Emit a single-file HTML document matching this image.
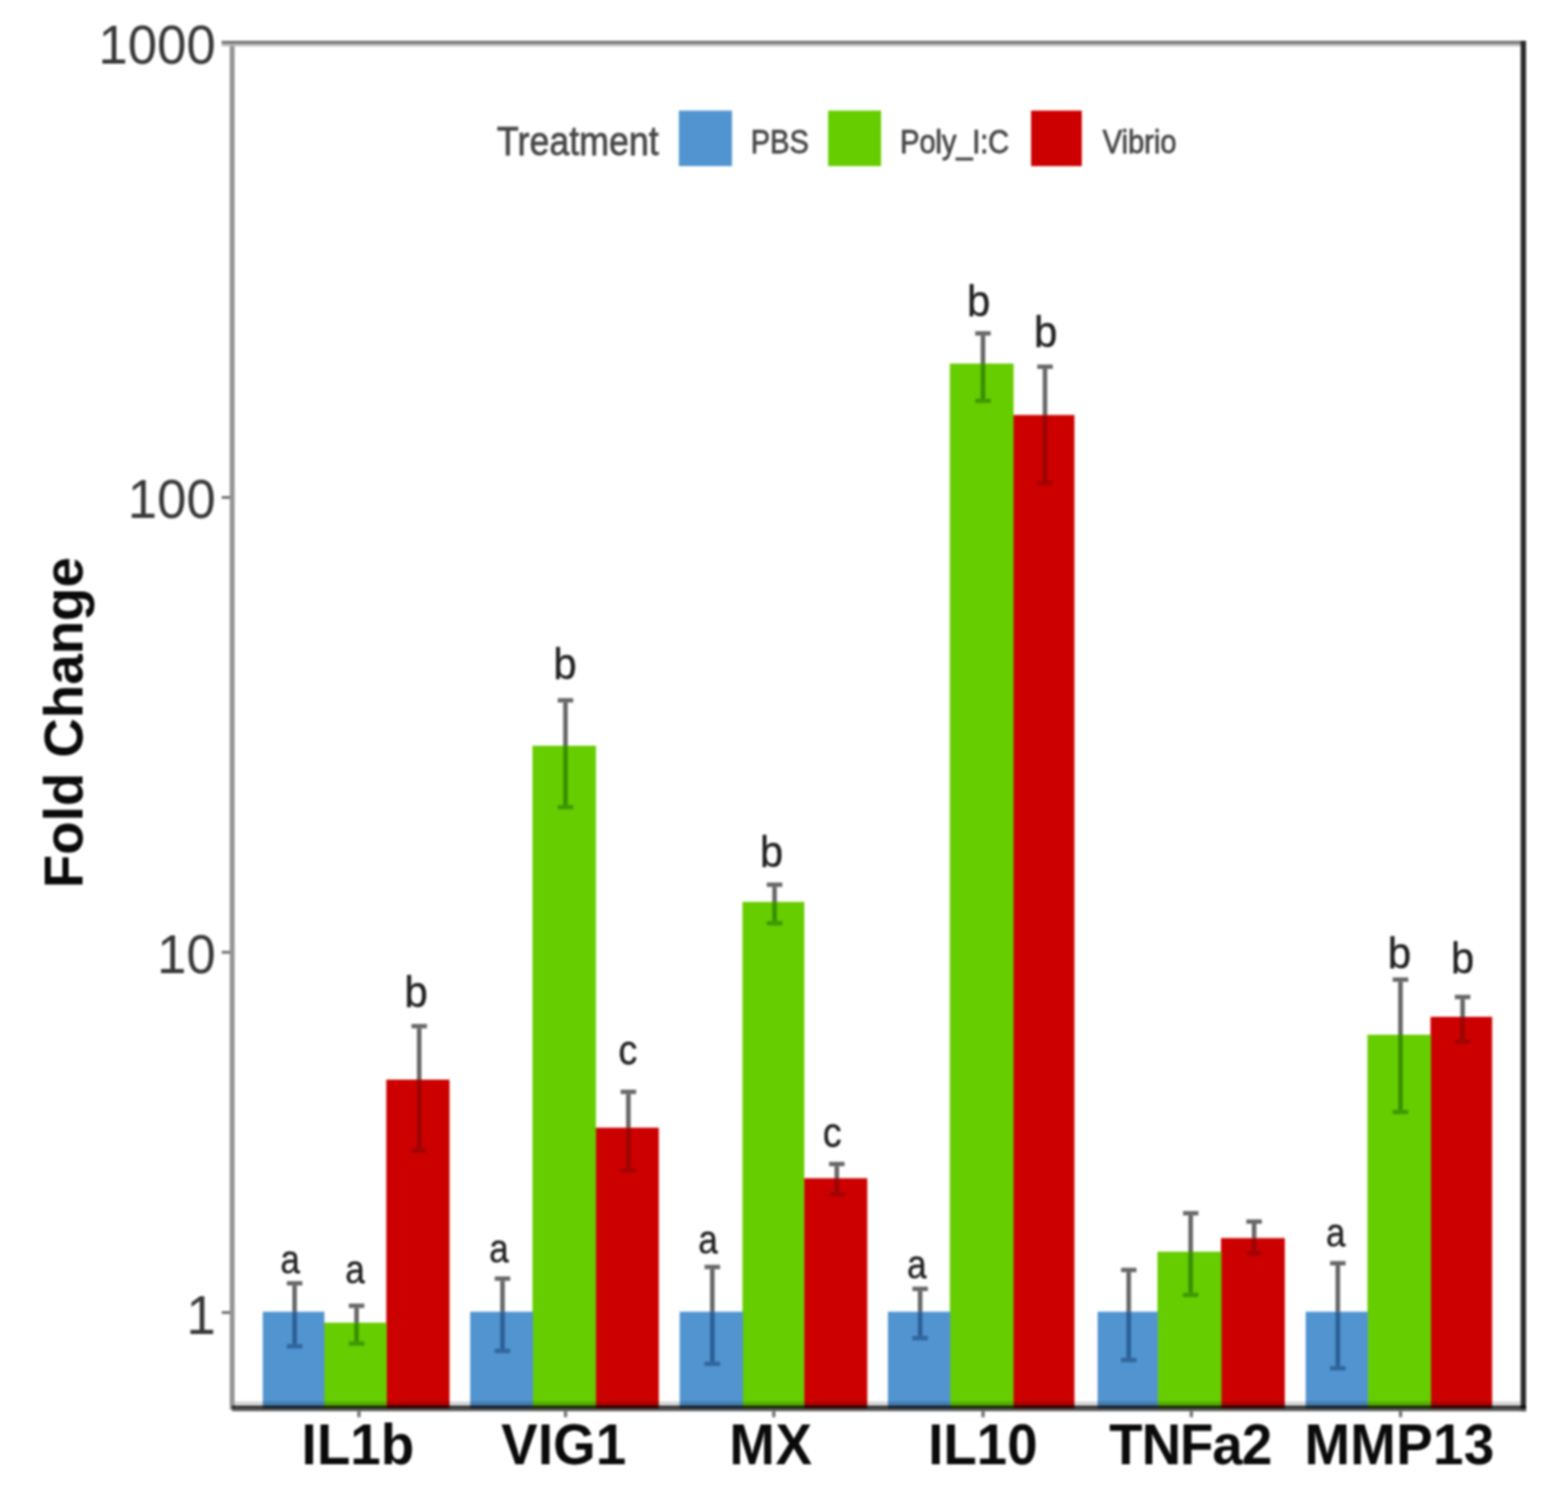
<!DOCTYPE html>
<html lang="en">
<head>
<meta charset="utf-8">
<title>Fold Change by Treatment</title>
<style>
html,body{margin:0;padding:0;background:#fff;}
body{width:1577px;height:1511px;overflow:hidden;}
svg{display:block;filter:blur(1.25px);}
text{font-family:"Liberation Sans",sans-serif;}
.ytick{font-size:53px;fill:#383838;text-anchor:end;}
.xlab{font-size:55px;font-weight:700;fill:#0a0a0a;}
.ytitle{font-size:55px;font-weight:700;fill:#0a0a0a;text-anchor:middle;}
.sig{fill:#202020;stroke:#202020;stroke-width:.35px;}
.legt{font-size:36px;fill:#474747;stroke:#474747;stroke-width:.7px;}
.legl{font-size:29.3px;fill:#474747;stroke:#474747;stroke-width:.7px;}
.ebw{stroke:#000;stroke-opacity:.6;fill:none;}
.ebb{fill:none;}
</style>
</head>
<body>
<svg width="1577" height="1511" viewBox="0 0 1577 1511" role="img" aria-label="Grouped bar chart of fold change by gene and treatment">
<rect x="0" y="0" width="1577" height="1511" fill="#ffffff"/>

<g id="bars">
<rect x="388.50" y="1086.1" width="63.60" height="330.8" fill="#cd0000"/>
<rect x="325.80" y="1330.6" width="63.20" height="86.3" fill="#66cd00"/>
<rect x="264.30" y="1319.6" width="62.00" height="97.3" fill="#5194cf"/>
<rect x="598.90" y="1134.5" width="63.70" height="282.4" fill="#cd0000"/>
<rect x="535.50" y="750.2" width="63.90" height="666.7" fill="#66cd00"/>
<rect x="472.90" y="1319.6" width="63.10" height="97.3" fill="#5194cf"/>
<rect x="808.40" y="1185.3" width="63.90" height="231.6" fill="#cd0000"/>
<rect x="746.70" y="907.3" width="62.20" height="509.6" fill="#66cd00"/>
<rect x="683.60" y="1319.6" width="63.60" height="97.3" fill="#5194cf"/>
<rect x="1018.90" y="417.5" width="61.70" height="999.4" fill="#cd0000"/>
<rect x="955.30" y="365.7" width="64.10" height="1051.2" fill="#66cd00"/>
<rect x="893.00" y="1319.6" width="62.80" height="97.3" fill="#5194cf"/>
<rect x="1228.00" y="1245.5" width="64.20" height="171.4" fill="#cd0000"/>
<rect x="1164.10" y="1259.2" width="64.40" height="157.7" fill="#66cd00"/>
<rect x="1103.90" y="1319.6" width="60.70" height="97.3" fill="#5194cf"/>
<rect x="1438.70" y="1022.9" width="62.00" height="394.0" fill="#cd0000"/>
<rect x="1375.30" y="1040.9" width="63.90" height="376.0" fill="#66cd00"/>
<rect x="1313.20" y="1319.6" width="62.60" height="97.3" fill="#5194cf"/>
</g>
<g id="frame">
<rect x="236" y="1409.8" width="1293" height="4.2" fill="#000" fill-opacity=".16"/>
<rect x="231" y="41" width="5" height="1377" fill="#969696"/>
<rect x="222.8" y="41" width="1309" height="3.2" fill="#787878"/>
<rect x="222.8" y="44.2" width="1309" height="2.3" fill="#b6b6b6"/>
<rect x="1529.4" y="41" width="5.4" height="1378.6" fill="#2a2a2a"/>
<rect x="233.3" y="1414" width="1301.5" height="2.9" fill="#000" fill-opacity=".8"/>
<rect x="233.3" y="1416.9" width="1301.5" height="2.7" fill="#565656"/>
</g>
<g id="ticks">
<rect x="223" y="499.0" width="8.5" height="2.8" fill="#6e6e6e"/>
<rect x="223" y="956.6" width="8.5" height="2.8" fill="#6e6e6e"/>
<rect x="223" y="1319.0" width="8.5" height="2.8" fill="#6e6e6e"/>
<rect x="359.3" y="1419.5" width="3.4" height="6.2" fill="#757575"/>
<rect x="567.1" y="1419.5" width="3.4" height="6.2" fill="#757575"/>
<rect x="776.5" y="1419.5" width="3.4" height="6.2" fill="#757575"/>
<rect x="987.0" y="1419.5" width="3.4" height="6.2" fill="#757575"/>
<rect x="1196.5" y="1419.5" width="3.4" height="6.2" fill="#757575"/>
<rect x="1406.9" y="1419.5" width="3.4" height="6.2" fill="#757575"/>
</g>
<g id="errorbars">
<path class="ebw" stroke-width="4.6" d="M296.3 1293.2V1319.6"/>
<path class="ebw" stroke-width="4.4" stroke-opacity=".5" d="M288.5 1291.0H304.1"/>
<path class="ebb" stroke="#0e3567" stroke-width="4.6" stroke-opacity="0.56" d="M296.3 1319.6V1352.2"/>
<path class="ebb" stroke="#0e3567" stroke-width="4.4" stroke-opacity="0.48" d="M288.5 1354.4H304.1"/>
<path class="ebw" stroke-width="4.6" d="M358.6 1315.8V1330.6"/>
<path class="ebw" stroke-width="4.4" stroke-opacity=".5" d="M350.8 1313.6H366.4"/>
<path class="ebb" stroke="#0a5000" stroke-width="4.6" stroke-opacity="0.5" d="M358.6 1330.6V1349.4"/>
<path class="ebb" stroke="#0a5000" stroke-width="4.4" stroke-opacity="0.42" d="M350.8 1351.6H366.4"/>
<path class="ebw" stroke-width="4.6" d="M421.6 1034.5V1086.1"/>
<path class="ebw" stroke-width="4.4" stroke-opacity=".5" d="M413.8 1032.3H429.4"/>
<path class="ebb" stroke="#6a0808" stroke-width="4.6" stroke-opacity="0.5" d="M421.6 1086.1V1155.4"/>
<path class="ebb" stroke="#6a0808" stroke-width="4.4" stroke-opacity="0.42" d="M413.8 1157.6H429.4"/>
<path class="ebw" stroke-width="4.6" d="M505.4 1288.5V1319.6"/>
<path class="ebw" stroke-width="4.4" stroke-opacity=".5" d="M497.6 1286.3H513.2"/>
<path class="ebb" stroke="#0e3567" stroke-width="4.6" stroke-opacity="0.56" d="M505.4 1319.6V1356.8"/>
<path class="ebb" stroke="#0e3567" stroke-width="4.4" stroke-opacity="0.48" d="M497.6 1359.0H513.2"/>
<path class="ebw" stroke-width="4.6" d="M568.7 706.7V750.2"/>
<path class="ebw" stroke-width="4.4" stroke-opacity=".5" d="M560.9 704.5H576.5"/>
<path class="ebb" stroke="#0a5000" stroke-width="4.6" stroke-opacity="0.5" d="M568.7 750.2V809.8"/>
<path class="ebb" stroke="#0a5000" stroke-width="4.4" stroke-opacity="0.42" d="M560.9 812.0H576.5"/>
<path class="ebw" stroke-width="4.6" d="M632.0 1100.6V1134.5"/>
<path class="ebw" stroke-width="4.4" stroke-opacity=".5" d="M624.2 1098.4H639.8"/>
<path class="ebb" stroke="#6a0808" stroke-width="4.6" stroke-opacity="0.5" d="M632.0 1134.5V1175.1"/>
<path class="ebb" stroke="#6a0808" stroke-width="4.4" stroke-opacity="0.42" d="M624.2 1177.3H639.8"/>
<path class="ebw" stroke-width="4.6" d="M716.4 1276.8V1319.6"/>
<path class="ebw" stroke-width="4.4" stroke-opacity=".5" d="M708.6 1274.6H724.2"/>
<path class="ebb" stroke="#0e3567" stroke-width="4.6" stroke-opacity="0.56" d="M716.4 1319.6V1369.8"/>
<path class="ebb" stroke="#0e3567" stroke-width="4.4" stroke-opacity="0.48" d="M708.6 1372.0H724.2"/>
<path class="ebw" stroke-width="4.6" d="M779.0 892.2V907.3"/>
<path class="ebw" stroke-width="4.4" stroke-opacity=".5" d="M771.2 890.0H786.8"/>
<path class="ebb" stroke="#0a5000" stroke-width="4.6" stroke-opacity="0.5" d="M779.0 907.3V926.6"/>
<path class="ebb" stroke="#0a5000" stroke-width="4.4" stroke-opacity="0.42" d="M771.2 928.8H786.8"/>
<path class="ebw" stroke-width="4.6" d="M841.6 1173.2V1185.3"/>
<path class="ebw" stroke-width="4.4" stroke-opacity=".5" d="M833.8 1171.0H849.4"/>
<path class="ebb" stroke="#6a0808" stroke-width="4.6" stroke-opacity="0.5" d="M841.6 1185.3V1199.2"/>
<path class="ebb" stroke="#6a0808" stroke-width="4.4" stroke-opacity="0.42" d="M833.8 1201.4H849.4"/>
<path class="ebw" stroke-width="4.6" d="M925.4 1298.8V1319.6"/>
<path class="ebw" stroke-width="4.4" stroke-opacity=".5" d="M917.6 1296.6H933.2"/>
<path class="ebb" stroke="#0e3567" stroke-width="4.6" stroke-opacity="0.56" d="M925.4 1319.6V1343.9"/>
<path class="ebb" stroke="#0e3567" stroke-width="4.4" stroke-opacity="0.48" d="M917.6 1346.1H933.2"/>
<path class="ebw" stroke-width="4.6" d="M988.6 337.6V365.7"/>
<path class="ebw" stroke-width="4.4" stroke-opacity=".5" d="M980.8 335.4H996.4"/>
<path class="ebb" stroke="#0a5000" stroke-width="4.6" stroke-opacity="0.5" d="M988.6 365.7V401.0"/>
<path class="ebb" stroke="#0a5000" stroke-width="4.4" stroke-opacity="0.42" d="M980.8 403.2H996.4"/>
<path class="ebw" stroke-width="4.6" d="M1051.0 371.1V417.5"/>
<path class="ebw" stroke-width="4.4" stroke-opacity=".5" d="M1043.2 368.9H1058.8"/>
<path class="ebb" stroke="#6a0808" stroke-width="4.6" stroke-opacity="0.5" d="M1051.0 417.5V483.9"/>
<path class="ebb" stroke="#6a0808" stroke-width="4.4" stroke-opacity="0.42" d="M1043.2 486.1H1058.8"/>
<path class="ebw" stroke-width="4.6" d="M1135.2 1279.8V1319.6"/>
<path class="ebw" stroke-width="4.4" stroke-opacity=".5" d="M1127.5 1277.6H1143.0"/>
<path class="ebb" stroke="#0e3567" stroke-width="4.6" stroke-opacity="0.56" d="M1135.2 1319.6V1366.0"/>
<path class="ebb" stroke="#0e3567" stroke-width="4.4" stroke-opacity="0.48" d="M1127.5 1368.2H1143.0"/>
<path class="ebw" stroke-width="4.6" d="M1197.5 1222.7V1259.2"/>
<path class="ebw" stroke-width="4.4" stroke-opacity=".5" d="M1189.8 1220.5H1205.3"/>
<path class="ebb" stroke="#0a5000" stroke-width="4.6" stroke-opacity="0.5" d="M1197.5 1259.2V1300.5"/>
<path class="ebb" stroke="#0a5000" stroke-width="4.4" stroke-opacity="0.42" d="M1189.8 1302.7H1205.3"/>
<path class="ebw" stroke-width="4.6" d="M1261.3 1231.1V1245.5"/>
<path class="ebw" stroke-width="4.4" stroke-opacity=".5" d="M1253.5 1228.9H1269.1"/>
<path class="ebb" stroke="#6a0808" stroke-width="4.6" stroke-opacity="0.5" d="M1261.3 1245.5V1258.7"/>
<path class="ebb" stroke="#6a0808" stroke-width="4.4" stroke-opacity="0.42" d="M1253.5 1260.9H1269.1"/>
<path class="ebw" stroke-width="4.6" d="M1345.5 1273.0V1319.6"/>
<path class="ebw" stroke-width="4.4" stroke-opacity=".5" d="M1337.7 1270.8H1353.3"/>
<path class="ebb" stroke="#0e3567" stroke-width="4.6" stroke-opacity="0.56" d="M1345.5 1319.6V1374.3"/>
<path class="ebb" stroke="#0e3567" stroke-width="4.4" stroke-opacity="0.48" d="M1337.7 1376.5H1353.3"/>
<path class="ebw" stroke-width="4.6" d="M1408.5 987.7V1040.9"/>
<path class="ebw" stroke-width="4.4" stroke-opacity=".5" d="M1400.7 985.5H1416.3"/>
<path class="ebb" stroke="#0a5000" stroke-width="4.6" stroke-opacity="0.5" d="M1408.5 1040.9V1116.5"/>
<path class="ebb" stroke="#0a5000" stroke-width="4.4" stroke-opacity="0.42" d="M1400.7 1118.7H1416.3"/>
<path class="ebw" stroke-width="4.6" d="M1471.0 1005.2V1022.9"/>
<path class="ebw" stroke-width="4.4" stroke-opacity=".5" d="M1463.2 1003.0H1478.8"/>
<path class="ebb" stroke="#6a0808" stroke-width="4.6" stroke-opacity="0.5" d="M1471.0 1022.9V1045.7"/>
<path class="ebb" stroke="#6a0808" stroke-width="4.4" stroke-opacity="0.42" d="M1463.2 1047.9H1478.8"/>
</g>
<g id="sig" class="sig">
<text transform="translate(281.9 1281.0) scale(0.88 1)" font-size="40.2">a</text>
<text transform="translate(347.3 1290.9) scale(0.88 1)" font-size="40.2">a</text>
<text transform="translate(406.8 1013.1) scale(0.95 1)" font-size="44.4">b</text>
<text transform="translate(491.9 1270.2) scale(0.88 1)" font-size="40.2">a</text>
<text transform="translate(556.5 682.5) scale(0.95 1)" font-size="44.4">b</text>
<text transform="translate(622.0 1071.3) scale(0.91 1)" font-size="41.8">c</text>
<text transform="translate(702.3 1260.6) scale(0.88 1)" font-size="40.2">a</text>
<text transform="translate(764.2 872.4) scale(0.95 1)" font-size="44.4">b</text>
<text transform="translate(827.5 1154.0) scale(0.91 1)" font-size="41.8">c</text>
<text transform="translate(912.3 1285.7) scale(0.88 1)" font-size="40.2">a</text>
<text transform="translate(972.4 317.9) scale(0.95 1)" font-size="44.4">b</text>
<text transform="translate(1040.1 348.5) scale(0.95 1)" font-size="44.4">b</text>
<text transform="translate(1333.4 1253.7) scale(0.88 1)" font-size="40.2">a</text>
<text transform="translate(1395.8 974.0) scale(0.95 1)" font-size="44.4">b</text>
<text transform="translate(1459.3 978.6) scale(0.95 1)" font-size="44.4">b</text>
</g>
<g id="ylabels">
<text class="ytick" transform="translate(217 64.2) scale(1 1.035)">1000</text>
<text class="ytick" transform="translate(217 521.0) scale(1 1.035)">100</text>
<text class="ytick" transform="translate(217 979.4) scale(1 1.035)">10</text>
<text class="ytick" transform="translate(217 1341.6) scale(1 1.035)">1</text>
</g>
<text class="ytitle" transform="translate(82.9 727.0) rotate(-90)">Fold Change</text>
<g id="xlabels">
<text class="xlab" transform="translate(303.2 1473.4) scale(1 1.03)" letter-spacing="0.15">IL1b</text>
<text class="xlab" transform="translate(504.0 1473.4) scale(1 1.03)" letter-spacing="0.2">VIG1</text>
<text class="xlab" transform="translate(733.5 1473.4) scale(1 1.03)" letter-spacing="0.8">MX</text>
<text class="xlab" transform="translate(933.5 1473.4) scale(1 1.03)" letter-spacing="0.0">IL10</text>
<text class="xlab" transform="translate(1115.6 1473.4) scale(1 1.03)" letter-spacing="-1.05">TNFa2</text>
<text class="xlab" transform="translate(1311.9 1473.4) scale(1 1.03)" letter-spacing="0.35">MMP13</text>
</g>
<g id="legend">
<text class="legt" transform="translate(499.8 155.6) scale(1 1.135)">Treatment</text>
<rect x="682.8" y="111.3" width="53.4" height="55.8" fill="#5194cf"/>
<text class="legl" transform="translate(755.0 154.4) scale(1 1.16)">PBS</text>
<rect x="832.9" y="111.3" width="53.2" height="55.8" fill="#66cd00"/>
<text class="legl" transform="translate(905.3 154.4) scale(1 1.16)" letter-spacing="-0.15">Poly_I:C</text>
<rect x="1037.0" y="111.3" width="51.0" height="55.8" fill="#cd0000"/>
<text class="legl" transform="translate(1109.0 154.4) scale(1 1.16)">Vibrio</text>
</g>
</svg>
</body>
</html>
